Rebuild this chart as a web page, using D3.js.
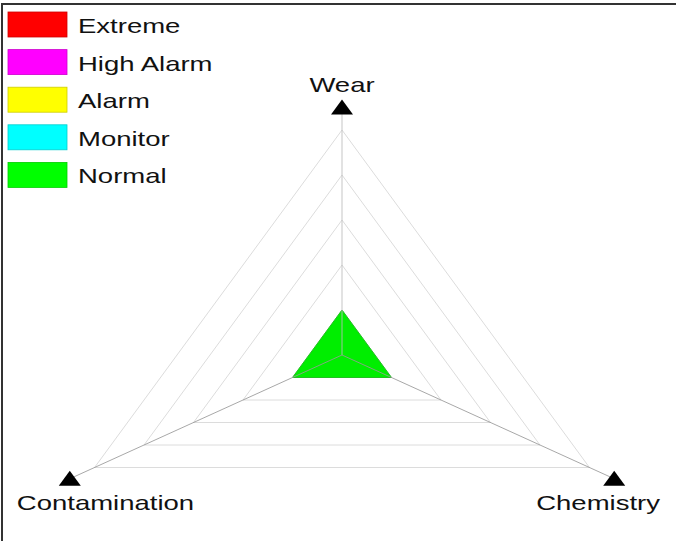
<!DOCTYPE html>
<html>
<head>
<meta charset="utf-8">
<script src="https://cdn.jsdelivr.net/npm/d3@7"></script>
<style>
  html, body { margin: 0; padding: 0; background: #fff; }
  svg { display: block; font-family: "Liberation Sans", Arial, sans-serif; }
</style>
</head>
<body>
<svg id="chart" width="676" height="541"></svg>
<script>
// data
const axes = ["Wear", "Contamination", "Chemistry"];
const values = [1, 1, 1];
const levels = [1, 2, 3, 4, 5];
const legendLabels = ["Extreme", "High Alarm", "Alarm", "Monitor", "Normal"];
const legendColors = ["#ff0000", "#ff00ff", "#ffff00", "#00ffff", "#00ff00"];

const svg = d3.select("#chart");
const width = +svg.attr("width");
const height = +svg.attr("height");

// the picture is stretched sideways, so x gets its own factor
const cx = 342, cy = 355;
const sx = 1.27;
const textSx = 1.31;
const r = d3.scaleLinear().domain([0, 5]).range([0, 225]);
// wear up, contamination lower-left, chemistry lower-right
const angs = [-90, 150, 30].map(a => a * Math.PI / 180);

const pt = (i, v) => [cx + sx * r(v) * Math.cos(angs[i]), cy + r(v) * Math.sin(angs[i])];

// frame
svg.append("path")
  .attr("d", `M2,${height} V4 H${width}`)
  .attr("fill", "none").attr("stroke", "#333").attr("stroke-width", 2);

const g = svg.append("g");

// grid triangles
g.selectAll(".grid")
  .data(levels)
  .join("polygon")
    .attr("class", "grid")
    .attr("points", l => axes.map((a, i) => pt(i, l).join(",")).join(" "))
    .attr("fill", "none")
    .attr("stroke", "#dcdcdc")
    .attr("stroke-width", 1);

// data polygon
g.append("polygon")
  .attr("points", values.map((v, i) => pt(i, v).join(",")).join(" "))
  .attr("fill", "#00ee00")
  .attr("stroke", "#22c022")
  .attr("stroke-width", 1);

// spokes
const axisMax = 5 * 1.1;
g.selectAll(".spoke")
  .data(axes)
  .join("line")
    .attr("class", "spoke")
    .attr("x1", cx).attr("y1", cy)
    .attr("x2", (d, i) => pt(i, axisMax)[0])
    .attr("y2", (d, i) => pt(i, axisMax)[1])
    .attr("stroke", (d, i) => i === 0 ? "#bbbbbb" : "#999999")
    .attr("stroke-opacity", 0.85)
    .attr("stroke-width", 1);

// end markers (all point up)
g.selectAll(".marker")
  .data(axes)
  .join("path")
    .attr("class", "marker")
    .attr("d", (d, i) => {
      const [x, y] = pt(i, axisMax);
      return `M${x},${y - 8} L${x + 11},${y + 7} L${x - 11},${y + 7} Z`;
    })
    .attr("fill", "#000");

// axis labels
const labelPos = (i) => {
  const [x, y] = pt(i, axisMax);
  if (i === 0) return { x: x, y: y - 16, anchor: "middle" };
  return { x: i === 1 ? Math.max(15, x - 53) : Math.min(660, x + 47), y: y + 31, anchor: i === 1 ? "start" : "end" };
};
g.selectAll(".axis-label")
  .data(axes)
  .join("text")
    .attr("class", "axis-label")
    .attr("transform", (d, i) => { const p = labelPos(i); return `translate(${p.x},${p.y}) scale(${textSx},1)`; })
    .attr("text-anchor", (d, i) => labelPos(i).anchor)
    .attr("font-size", 21)
    .attr("fill", "#111")
    .text(d => d);

// legend
const legend = svg.append("g").attr("transform", "translate(8,12)");
const row = legend.selectAll("g")
  .data(legendLabels)
  .join("g")
    .attr("transform", (d, i) => `translate(0,${i * 37.6})`);
row.append("rect")
  .attr("width", 59).attr("height", 25)
  .attr("fill", (d, i) => legendColors[i])
  .attr("stroke", (d, i) => d3.color(legendColors[i]).darker(0.6))
  .attr("stroke-width", 0.8);
row.append("text")
  .attr("transform", "translate(70,21) scale(" + textSx + ",1)")
  .attr("font-size", 21)
  .attr("fill", "#111")
  .text(d => d);
</script>
</body>
</html>
